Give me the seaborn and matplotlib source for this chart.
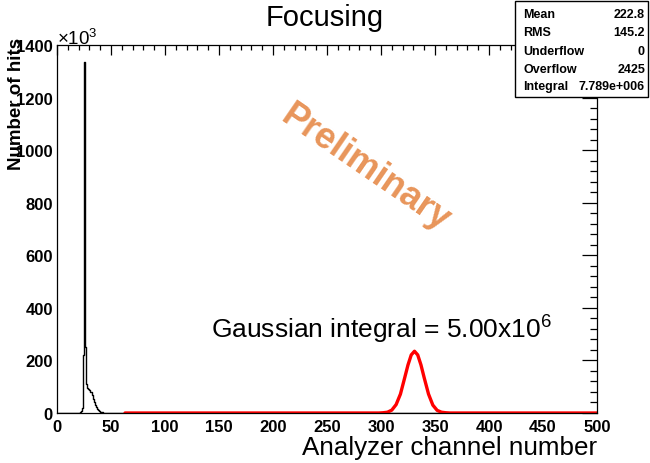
import numpy as np
import pandas as pd
import matplotlib
matplotlib.use("Agg")
import matplotlib.pyplot as plt
import seaborn as sns
from matplotlib.ticker import MultipleLocator
from matplotlib.patches import Rectangle

# ---- data (hits in units of 10^3) ----
hist_channels = [20, 21, 22, 23, 24, 25, 26, 27, 28, 29, 30, 31, 32, 33,
                 34, 35, 36, 37, 38, 39, 40, 41, 42, 43, 44]
hist_counts = [1, 3, 6, 20, 220, 1335, 252, 110, 97, 92, 88, 80, 68, 55,
               42, 32, 23, 16, 11, 7, 4, 3, 2, 1, 0.5]

fit_x = [63, 298, 302, 306, 310, 314, 318, 322, 325, 328, 331, 334, 337,
         340, 344, 348, 352, 356, 360, 364, 500]
fit_y = [0, 0, 1, 3, 11, 32, 72, 135, 183, 221, 235, 221, 183,
         134, 72, 30, 10, 3, 1, 0, 0]

stats_names = ["Mean", "RMS", "Underflow", "Overflow", "Integral"]
stats_values = ["222.8", "145.2", "0", "2425", "7.789e+006"]

title = "Focusing"
xlabel = "Analyzer channel number"
ylabel = "Number of hits"

sns.set_theme(style="white")
plt.rcParams['font.family'] = ['Liberation Sans', 'DejaVu Sans']
plt.rcParams['text.color'] = 'black'
plt.rcParams['xtick.color'] = 'black'
plt.rcParams['ytick.color'] = 'black'
plt.rcParams['axes.labelcolor'] = 'black'
plt.rcParams['mathtext.fontset'] = 'custom'
plt.rcParams['mathtext.rm'] = 'Liberation Sans'
plt.rcParams['mathtext.it'] = 'Liberation Sans'
plt.rcParams['mathtext.bf'] = 'Liberation Sans:bold'

fig = plt.figure(figsize=(6.5, 4.64), dpi=100)
ax = fig.add_axes([57/650, 50/464, 540/650, 368/464])

hist_df = pd.DataFrame({"channel": hist_channels, "hits": hist_counts})
sns.histplot(data=hist_df, x="channel", weights="hits", binwidth=1,
             binrange=(0, 500), element="step", fill=False, color="black",
             linewidth=1.0, ax=ax)
fit_df = pd.DataFrame({"x": fit_x, "y": fit_y})
sns.lineplot(data=fit_df, x="x", y="y", color="red", linewidth=2.4, ax=ax)

ax.set_xlim(0, 500)
ax.set_ylim(0, 1400)
ax.set_xlabel("")
ax.set_ylabel("")

ax.xaxis.set_major_locator(MultipleLocator(50))
ax.xaxis.set_minor_locator(MultipleLocator(10))
ax.yaxis.set_major_locator(MultipleLocator(200))
ax.yaxis.set_minor_locator(MultipleLocator(40))
ax.tick_params(axis='both', which='both', direction='in', top=True, right=True,
               color='black', width=0.9)
ax.tick_params(axis='x', which='major', length=7.2, labelsize=12, pad=4)
ax.tick_params(axis='x', which='minor', length=3.6)
ax.tick_params(axis='y', which='major', length=11, labelsize=12, pad=3)
ax.tick_params(axis='y', which='minor', length=5.4)
for lab in ax.get_xticklabels() + ax.get_yticklabels():
    lab.set_fontweight('bold')
for s in ax.spines.values():
    s.set_color('black')
    s.set_linewidth(0.9)

fig.text(57/650, 1 - 45/464, r"$\times$10$^3$", fontsize=13.5, ha='left', va='baseline')

fig.text(325/650, 1 - 18/464, title, fontsize=21, ha='center', va='center')
fig.text(597/650, 1 - 448/464, xlabel, fontsize=18.7, ha='right', va='center')
fig.text(17/650, 1 - 38/464, ylabel, fontsize=13.5, fontweight='bold',
         rotation=90, ha='center', va='top')

fig.text(381/650, 1 - 330/464, r"Gaussian integral = 5.00x10$^6$", fontsize=19,
         ha='center', va='center')

fig.text(366/650, 1 - 168/464, "Preliminary", fontsize=26, fontweight='bold',
         color='#E8955A', rotation=-34.5, ha='center', va='center')

# stats box
bx0, by0, bx1, by1 = 515/650, 1 - 98/464, 648/650, 1 - 2/464
fig.patches.append(Rectangle((bx0, by0), bx1 - bx0, by1 - by0,
                             transform=fig.transFigure, facecolor='white',
                             edgecolor='black', linewidth=1.0, zorder=5))
rows_y = [15, 33, 52, 70, 87]
for name, val, yy in zip(stats_names, stats_values, rows_y):
    fig.text(523/650, 1 - yy/464, name, fontsize=9, fontweight='bold',
             ha='left', va='center', zorder=6)
    fig.text(645/650, 1 - yy/464, val, fontsize=9, fontweight='bold',
             ha='right', va='center', zorder=6)

fig.savefig("out.png", dpi=100)
